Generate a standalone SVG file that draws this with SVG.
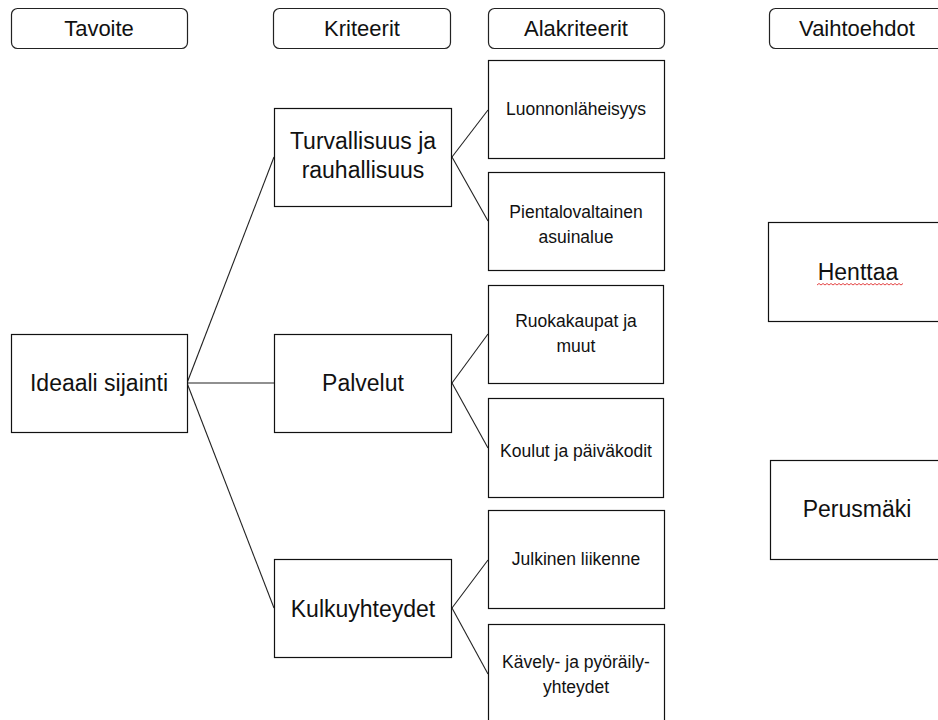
<svg xmlns="http://www.w3.org/2000/svg" width="938" height="720" viewBox="0 0 938 720">
<style>
.hd{fill:#fff;stroke:#222;stroke-width:1.2}
.bx{fill:#fff;stroke:#111;stroke-width:1.2}
.t{font-family:"Liberation Sans",Arial,sans-serif;fill:#111;text-anchor:middle}
.h{font-size:22px}
.m{font-size:23px}
.s{font-size:17.5px}
.ln{stroke:#222;stroke-width:1.1;fill:none}
</style>
<rect width="938" height="720" fill="#fff"/>
<g id="connectors">
<line class="ln" x1="187" y1="383" x2="274" y2="157"/>
<line class="ln" x1="187" y1="383" x2="274" y2="383"/>
<line class="ln" x1="187" y1="383" x2="274" y2="608"/>
<line class="ln" x1="452" y1="157" x2="488" y2="110"/>
<line class="ln" x1="452" y1="157" x2="488" y2="221"/>
<line class="ln" x1="452" y1="383" x2="488" y2="334"/>
<line class="ln" x1="452" y1="383" x2="488" y2="448"/>
<line class="ln" x1="452" y1="608" x2="488" y2="560"/>
<line class="ln" x1="452" y1="608" x2="488" y2="674"/>
</g>
<g id="h-tavoite"><rect class="hd" x="11.5" y="8.5" width="176" height="40" rx="6"/><text class="t h" x="99" y="36">Tavoite</text></g>
<g id="h-kriteerit"><rect class="hd" x="273.5" y="8.5" width="177" height="40" rx="6"/><text class="t h" x="362" y="36">Kriteerit</text></g>
<g id="h-alakriteerit"><rect class="hd" x="488.5" y="8.5" width="176" height="40" rx="6"/><text class="t h" x="576" y="36">Alakriteerit</text></g>
<g id="h-vaihtoehdot"><rect class="hd" x="769.5" y="8.5" width="178" height="40" rx="6"/><text class="t h" x="857" y="36">Vaihtoehdot</text></g>

<g id="ideaali"><rect class="bx" x="11.5" y="334.5" width="176" height="98"/><text class="t m" x="99" y="391">Ideaali sijainti</text></g>
<g id="turvallisuus"><rect class="bx" x="274.5" y="108.5" width="177" height="98"/><text class="t m" x="363" y="149">Turvallisuus ja</text><text class="t m" x="363" y="178">rauhallisuus</text></g>
<g id="palvelut"><rect class="bx" x="274.5" y="334.5" width="177" height="98"/><text class="t m" x="363" y="391">Palvelut</text></g>
<g id="kulkuyhteydet"><rect class="bx" x="274.5" y="559.5" width="177" height="98"/><text class="t m" x="363" y="617">Kulkuyhteydet</text></g>

<g id="luonnon"><rect class="bx" x="488.5" y="60.5" width="176" height="98"/><text class="t s" x="576" y="115">Luonnonläheisyys</text></g>
<g id="pientalo"><rect class="bx" x="488.5" y="172.5" width="176" height="98"/><text class="t s" x="576" y="218">Pientalovaltainen</text><text class="t s" x="576" y="243">asuinalue</text></g>
<g id="ruokakaupat"><rect class="bx" x="488.5" y="285.5" width="175" height="98"/><text class="t s" x="576" y="327">Ruokakaupat ja</text><text class="t s" x="576" y="352">muut</text></g>
<g id="koulut"><rect class="bx" x="488.5" y="398.5" width="175" height="99"/><text class="t s" x="576" y="457">Koulut ja päiväkodit</text></g>
<g id="julkinen"><rect class="bx" x="488.5" y="510.5" width="176" height="98"/><text class="t s" x="576" y="565">Julkinen liikenne</text></g>
<g id="kavely"><rect class="bx" x="488.5" y="624.5" width="176" height="110"/><text class="t s" x="576" y="668">Kävely- ja pyöräily-</text><text class="t s" x="576" y="693">yhteydet</text></g>

<g id="henttaa"><rect class="bx" x="768.5" y="222.5" width="180" height="99"/><text class="t m" x="858" y="280">Henttaa</text><path d="M817 285 l2 -1.5 l2 1.5 l2 -1.5 l2 1.5 l2 -1.5 l2 1.5 l2 -1.5 l2 1.5 l2 -1.5 l2 1.5 l2 -1.5 l2 1.5 l2 -1.5 l2 1.5 l2 -1.5 l2 1.5 l2 -1.5 l2 1.5 l2 -1.5 l2 1.5 l2 -1.5 l2 1.5 l2 -1.5 l2 1.5 l2 -1.5 l2 1.5 l2 -1.5 l2 1.5 l2 -1.5 l2 1.5 l2 -1.5 l2 1.5 l2 -1.5 l2 1.5 l2 -1.5 l2 1.5 l2 -1.5 l2 1.5 l2 -1.5 l2 1.5 l2 -1.5 l2 1.5 l2 -1.5" fill="none" stroke="#e03030" stroke-width="0.9"/></g>
<g id="perusmaki"><rect class="bx" x="770.5" y="460.5" width="180" height="99"/><text class="t m" x="857" y="517">Perusmäki</text></g>
</svg>
